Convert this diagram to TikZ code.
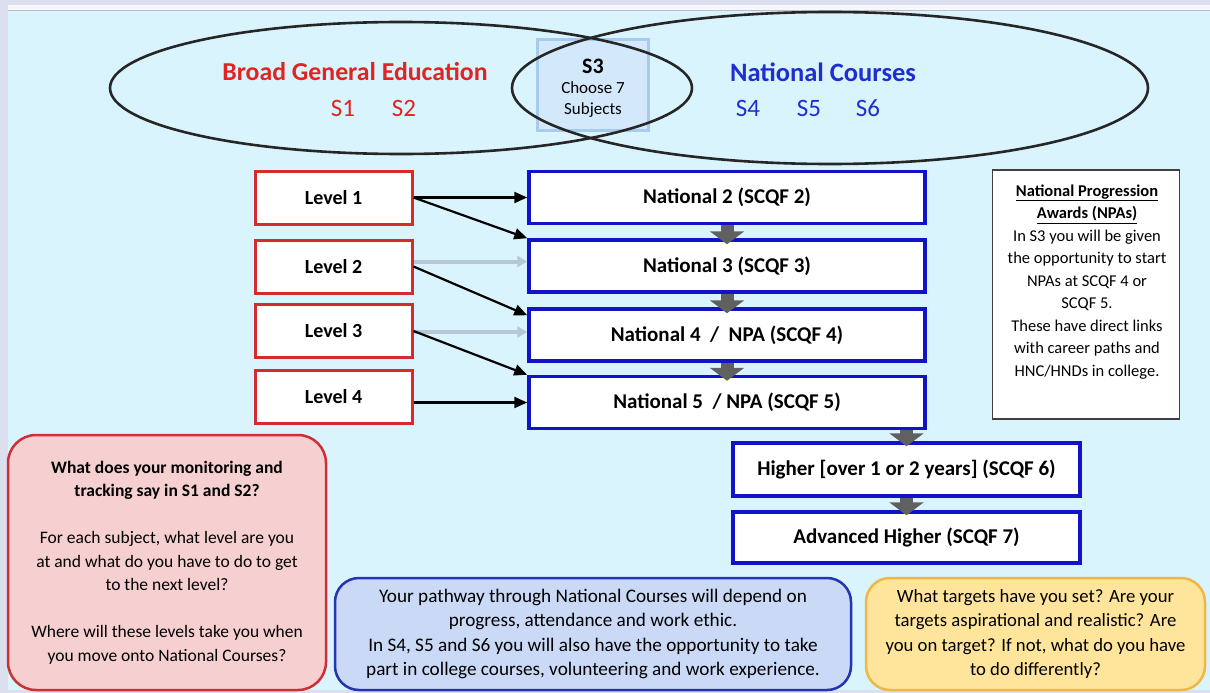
\documentclass[tikz,border=0pt]{standalone}
\usepackage{fontspec}
\setmainfont{Carlito}
\usetikzlibrary{arrows.meta}
\definecolor{bg}{HTML}{DAF4FD}
\definecolor{strip}{HTML}{DCE0EE}
\definecolor{lvlred}{HTML}{D42A30}
\definecolor{natblue}{HTML}{1212C8}
\definecolor{txtred}{HTML}{E02424}
\definecolor{txtblue}{HTML}{1E2ED0}
\definecolor{pinkfill}{HTML}{F6CFD0}
\definecolor{pinkdraw}{HTML}{CC3034}
\definecolor{bluefill}{HTML}{C9D9F6}
\definecolor{bluedraw}{HTML}{2434B4}
\definecolor{yelfill}{HTML}{FFE59C}
\definecolor{yeldraw}{HTML}{EEB844}
\definecolor{grayarr}{HTML}{606060}
\definecolor{lightarr}{HTML}{B6C7D8}
\definecolor{s3fill}{HTML}{D3E9FB}
\definecolor{s3draw}{HTML}{A8CAEE}
\definecolor{npadraw}{HTML}{404040}
\tikzset{
  lvlbox/.style={draw=lvlred, line width=3pt, fill=white, minimum width=157pt, minimum height=53pt, inner sep=0pt, font=\bfseries\fontsize{20}{22}\selectfont},
  natbox/.style={draw=natblue, line width=3.5pt, fill=white, inner sep=0pt, minimum height=52pt, font=\bfseries\fontsize{21}{23}\selectfont},
  blk/.style={line width=2.2pt, black, -{Triangle[length=13pt,width=11pt]}},
  lgt/.style={line width=4pt, lightarr, -{Triangle[length=10pt,width=11pt]}},
  gry/.style={line width=13pt, grayarr, -{Triangle[length=13pt,width=34pt]}},
  ell/.style={line width=2.6pt, black!85},
  note/.style={rounded corners=28pt, line width=2.5pt, align=center, inner sep=0pt},
}
\begin{document}
\begin{tikzpicture}[x=1pt,y=-1pt]
\useasboundingbox (0,0) rectangle (1210,693);
\fill[strip] (0,0) rectangle (1210,693);
\fill[white!97!blue] (8,5) rectangle (1210,10);
\fill[gray!50] (8,10) rectangle (1210,11);
\fill[bg] (8,11) rectangle (1210,690);

% S3 box
\node[draw=s3draw, fill=s3fill, line width=3pt, minimum width=111pt, minimum height=90pt, inner sep=0pt] (s3box) at (592.5,85) {};
\node[align=center, font=\fontsize{17}{20.5}\selectfont] (s3txt) at (593,88) {{\bfseries\fontsize{22}{20}\selectfont S3}\\Choose 7\\Subjects};

% ellipses
\draw[ell] (401,88) ellipse [x radius=291pt, y radius=66pt];
\draw[ell] (830,88) ellipse [x radius=318pt, y radius=76pt];

\node[text=txtred, font=\bfseries\fontsize{25.8}{26}\selectfont] (bge) at (355,72) {Broad General Education};
\node[text=txtred, font=\fontsize{25}{25}\selectfont] (s1) at (343,108) {S1};
\node[text=txtred, font=\fontsize{25}{25}\selectfont] (s2) at (404,108) {S2};
\node[text=txtblue, font=\bfseries\fontsize{26.5}{27}\selectfont] (nc) at (823,72) {National Courses};
\node[text=txtblue, font=\fontsize{25}{25}\selectfont] (s4) at (748,108) {S4};
\node[text=txtblue, font=\fontsize{25}{25}\selectfont] (s5) at (809,108) {S5};
\node[text=txtblue, font=\fontsize{25}{25}\selectfont] (s6) at (868,108) {S6};

% level boxes
\node[lvlbox] (l1) at (333.5,197.5) {Level 1};
\node[lvlbox] (l2) at (333.5,266.5) {Level 2};
\node[lvlbox] (l3) at (333.5,331) {Level 3};
\node[lvlbox] (l4) at (333.5,396.5) {Level 4};

% national boxes
\node[natbox, minimum width=396pt] (n2) at (727,197.5) {National 2 (SCQF 2)};
\node[natbox, minimum width=396pt] (n3) at (727,266) {National 3 (SCQF 3)};
\node[natbox, minimum width=396pt] (n4) at (727,335) {National 4 \ / \ NPA (SCQF 4)};
\node[natbox, minimum width=396pt] (n5) at (727,402.5) {National 5 \ / NPA (SCQF 5)};
\node[natbox, minimum width=347pt, minimum height=53pt] (hi) at (906.5,469.5) {Higher [over 1 or 2 years] (SCQF 6)};
\node[natbox, minimum width=347pt, minimum height=51pt] (ah) at (906.5,537.5) {Advanced Higher (SCQF 7)};

% gray progression arrows
\draw[gry] (n2.south) -- ([yshift=-6pt]n3.north);
\draw[gry] (n3.south) -- ([yshift=-6pt]n4.north);
\draw[gry] (n4.south) -- ([yshift=-6pt]n5.north);
\draw[gry] (n5.south -| hi.north) -- ([yshift=-5pt]hi.north);
\draw[gry] (hi.south) -- ([yshift=-5pt]ah.north);

% level arrows
\draw[lgt] ([yshift=5pt]l2.east) -- ([yshift=5pt]l2.east -| n3.west);
\draw[lgt] ([yshift=-1pt]l3.east) -- ([yshift=-1pt]l3.east -| n4.west);
\draw[blk] (l1.east) -- (n2.west);
\draw[blk] (l1.east) -- (n3.north west);
\draw[blk] (l2.east) -- ([yshift=-8pt]n4.north west);
\draw[blk] (l3.east) -- (n5.north west);
\draw[blk] (l4.east |- n5.west) -- (n5.west);

% NPA box
\node[draw=npadraw, line width=1.5pt, fill=white, minimum width=187pt, minimum height=249pt, inner sep=0pt] (npa) at (1086,294.5) {};
\node[align=center, font=\fontsize{16.5}{22.5}\selectfont] (npatxt) at (1087,282) {{\bfseries\underline{National Progression}}\\{\bfseries\underline{Awards (NPAs)}}\\In S3 you will be given\\the opportunity to start\\NPAs at SCQF 4 or\\SCQF 5.\\These have direct links\\with career paths and\\HNC/HNDs in college.};

% notes
\node[note, draw=pinkdraw, fill=pinkfill, minimum width=318pt, minimum height=255pt, font=\fontsize{17.5}{23.5}\selectfont] (pink) at (167,562.5) {{\bfseries What does your monitoring and}\\{\bfseries tracking say in S1 and S2?}\\[23.5pt]For each subject, what level are you\\at and what do you have to do to get\\to the next level?\\[23.5pt]Where will these levels take you when\\you move onto National Courses?};
\node[note, rounded corners=24pt, draw=bluedraw, fill=bluefill, minimum width=516pt, minimum height=112pt, font=\fontsize{19.2}{24.5}\selectfont] (blue) at (593,634) {Your pathway through National Courses will depend on\\progress, attendance and work ethic.\\In S4, S5 and S6 you will also have the opportunity to take\\part in college courses, volunteering and work experience.};
\node[note, rounded corners=24pt, draw=yeldraw, fill=yelfill, minimum width=339pt, minimum height=112pt, font=\fontsize{18.7}{24.5}\selectfont] (yel) at (1035.5,634) {What targets have you set? Are your\\targets aspirational and realistic? Are\\you on target? If not, what do you have\\to do differently?};
\end{tikzpicture}
\end{document}
